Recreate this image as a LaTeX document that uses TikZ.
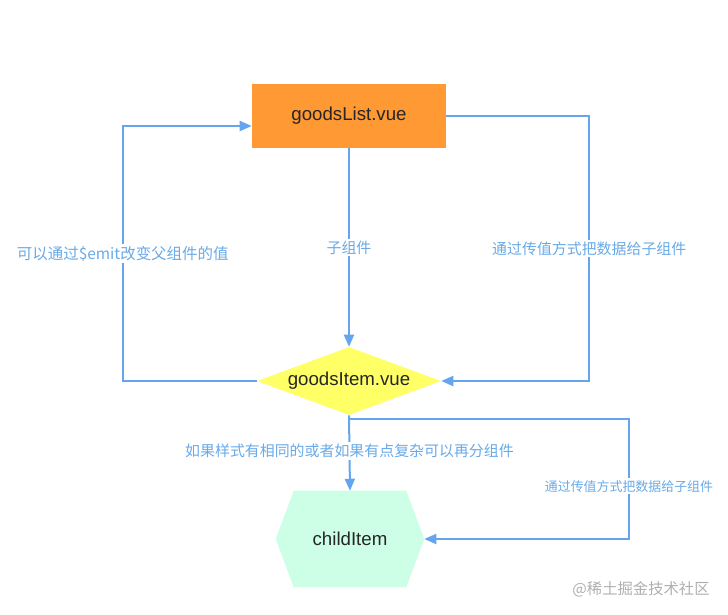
\documentclass[tikz,border=0pt]{standalone}
\usepackage{fontspec}
\setmainfont{Liberation Sans}
\newfontfamily\cjk{Noto Sans CJK SC}
\usetikzlibrary{arrows.meta,positioning,calc,shapes.geometric,backgrounds}
\definecolor{listfill}{RGB}{255,153,51}
\definecolor{itemfill}{RGB}{255,255,102}
\definecolor{childfill}{RGB}{204,255,230}
\definecolor{wire}{RGB}{100,165,238}
\definecolor{wiretext}{RGB}{105,170,232}
\definecolor{mark}{RGB}{175,175,175}

\tikzset{
  link/.style={draw=wire,line width=1.5pt,-{Triangle[length=9pt,width=7.5pt]}},
  lab/.style={fill=white,inner sep=1.5pt,text=wiretext,font=\cjk\fontsize{11.2}{13}\selectfont},
  labwide/.style={lab,font=\cjk\fontsize{11.6}{13}\selectfont},
  labsmall/.style={lab,font=\cjk\fontsize{9.7}{11}\selectfont},
  nodetext/.style={font=\fontsize{14}{16}\selectfont,text=black!85}
}

\begin{document}
\begin{tikzpicture}[x=0.75pt,y=-0.75pt]
\useasboundingbox (0,0) rectangle (728,614);

% nodes
\node[nodetext,fill=listfill,minimum width=194*0.75pt,minimum height=64*0.75pt]
  (list) at (349,116) {goodsList.vue};
\node[nodetext,diamond,fill=itemfill,inner sep=0pt,aspect=2.7,
      minimum width=184*0.75pt,minimum height=68*0.75pt]
  (item) at (349,381) {goodsItem.vue};
\node[nodetext,minimum width=148*0.75pt,minimum height=96*0.75pt]
  (child) at (350,539) {childItem};
\begin{scope}[on background layer]
  \fill[childfill] ($(child.north west)+(18,0)$) -- ($(child.north east)+(-18,0)$)
    -- (child.east) -- ($(child.south east)+(-18,0)$)
    -- ($(child.south west)+(18,0)$) -- (child.west) -- cycle;
\end{scope}

% connectors
\draw[link] (list.south) -- node[lab]{子组件} (item.north);
\draw[link] (list.east) -- ++(143,0) |-
  node[lab,pos=0.25]{通过传值方式把数据给子组件} (item.east);
\draw[link] (item.west) -- ++(-134,0) |-
  node[labwide,pos=0.25]{可以通过\$emit改变父组件的值} ($(list.west)+(0,10)$);
\draw[link] (item.south) -- node[lab,pos=0.47]{如果样式有相同的或者如果有点复杂可以再分组件} (child.north);
\coordinate (split) at ($(item.south)+(0,4)$);
\draw[link] (split) -- ++(280,0) |-
  node[labsmall,pos=0.28]{通过传值方式把数据给子组件} (child.east);

% watermark
\node[text=mark,font=\cjk\fontsize{11.5}{13}\selectfont] (wm) at (641,589) {@稀土掘金技术社区};

\end{tikzpicture}
\end{document}
